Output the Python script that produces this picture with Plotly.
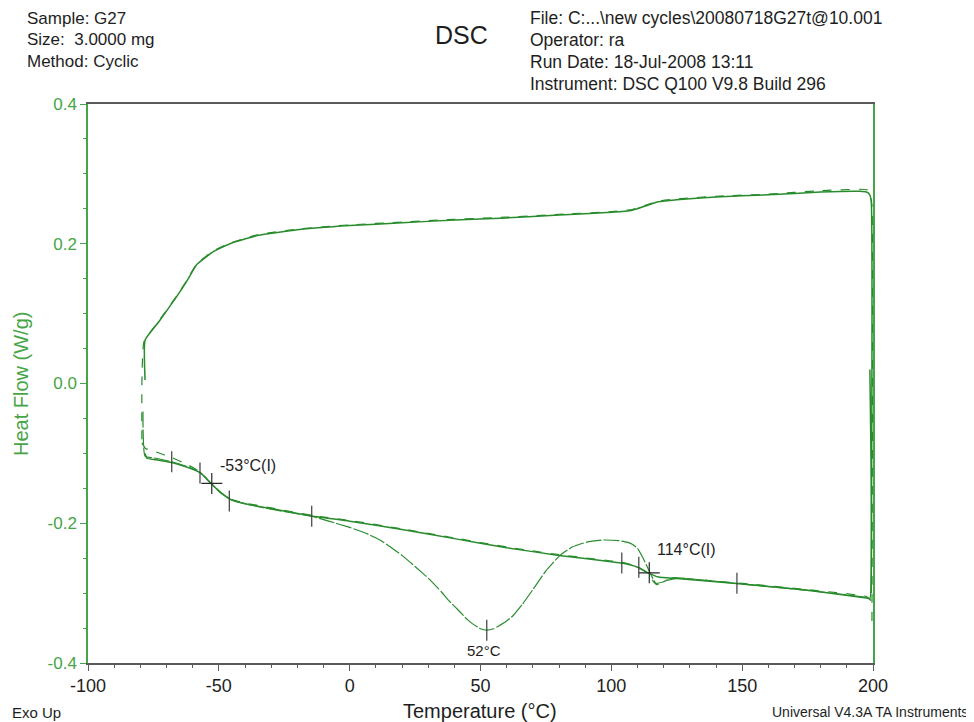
import plotly.graph_objects as go

# ---------------- data ----------------
# Cycle A (solid): cooling 200 -> -78 (top), then heating -78 -> 200 (bottom, no transition)
coolA_T = [199.3, 199.3, 198.6, 197.5, 195, 180, 160, 140, 125, 118, 113, 108, 100, 80, 60, 40, 20, 0,
           -20, -35, -45, -52, -58.5, -62, -66, -73, -78.2, -78.2]
coolA_HF = [-0.300, 0.262, 0.271, 0.274, 0.275, 0.274, 0.270, 0.267, 0.263, 0.260, 0.254, 0.248, 0.245,
            0.241, 0.237, 0.234, 0.230, 0.226, 0.220, 0.212, 0.201, 0.189, 0.170, 0.148, 0.125, 0.088,
            0.062, 0.005]
heatA_T = [-78.2, -77.5, -74, -68, -62, -57, -53, -49, -45, -40, -30, -14, 0, 20, 40, 60, 80, 100, 104,
           110, 114, 118, 125, 150, 175, 197.5, 198.8, 198.8]
heatA_HF = [-0.100, -0.107, -0.109, -0.113, -0.120, -0.128, -0.143, -0.157, -0.167, -0.172, -0.179,
            -0.190, -0.197, -0.209, -0.222, -0.235, -0.246, -0.255, -0.257, -0.263, -0.271, -0.277,
            -0.279, -0.287, -0.296, -0.307, -0.308, 0.020]

# Cycle B (dashed): almost the same path
coolB_T = [199.6, 199.6, 199.0, 198.0, 195, 180, 160, 140, 125, 118, 113, 108, 100, 80, 60, 40, 20, 0,
           -20, -35, -45, -52, -58.5, -62, -66, -73, -78.6, -79.4, -79.4]
coolB_HF = [-0.340, 0.255, 0.268, 0.277, 0.278, 0.276, 0.271, 0.268, 0.264, 0.261, 0.255, 0.249, 0.246,
            0.242, 0.238, 0.235, 0.231, 0.227, 0.221, 0.213, 0.202, 0.190, 0.171, 0.149, 0.126, 0.089,
            0.060, 0.000, -0.085]
heatB_T = [-79.4, -78, -74, -68, -62, -57, -53, -49, -45, -40, -30, -14, 0, 20, 40, 60, 80, 100, 104,
           110, 114, 116, 117.5, 120, 125, 150, 175, 197.5, 199.6]
heatB_HF = [-0.085, -0.093, -0.098, -0.106, -0.116, -0.127, -0.143, -0.157, -0.166, -0.171, -0.178,
            -0.189, -0.196, -0.208, -0.221, -0.234, -0.245, -0.254, -0.256, -0.262, -0.272, -0.283,
            -0.288, -0.283, -0.279, -0.286, -0.295, -0.305, -0.312]

# First heating (long dash): cold-crystallisation dip at 52 C
heatC_T = [-79.0, -78.2, -74, -68, -62, -57, -53, -49, -45, -40, -30, -14.5, -8, 0, 6, 11.6, 16, 20, 25,
           30.7, 35, 38, 42.2, 45, 47, 50, 52.4, 55, 57, 60, 62.5, 66, 70.2, 75, 80.4, 85, 90.6, 96.8,
           103, 106, 108, 110, 112, 114.7, 117, 119.7, 123.5, 150, 175, 197.5]
heatC_HF = [-0.040, -0.104, -0.107, -0.112, -0.119, -0.128, -0.143, -0.157, -0.167, -0.172, -0.180,
            -0.190, -0.197, -0.206, -0.214, -0.224, -0.235, -0.246, -0.262, -0.281, -0.298, -0.311,
            -0.327, -0.338, -0.344, -0.351, -0.353, -0.351, -0.347, -0.340, -0.332, -0.316, -0.294,
            -0.268, -0.246, -0.234, -0.227, -0.224, -0.225, -0.227, -0.230, -0.236, -0.249, -0.270,
            -0.286, -0.284, -0.278, -0.287, -0.296, -0.306]

# analysis marks
tick_T = [-68, -57.2, -46, -14.5, 52.4, 104, 110.5, 148]
tick_HF = [-0.112, -0.128, -0.168, -0.190, -0.353, -0.257, -0.263, -0.286]
cross_T = [-52.7, 114.5]
cross_HF = [-0.143, -0.271]

x_ticks = [-100, -50, 0, 50, 100, 150, 200]
y_ticks = [-0.4, -0.2, 0.0, 0.2, 0.4]

# ---------------- figure ----------------
GREEN = "rgb(40,140,45)"
GREEN_AX = "rgb(70,165,70)"
GRAY = "rgb(90,90,90)"
FONT = "Liberation Sans, Arial, sans-serif"

fig = go.Figure()
for T, H, dash, w in [
    (coolA_T, coolA_HF, "solid", 1.5),
    (heatA_T, heatA_HF, "solid", 1.5),
    (coolB_T, coolB_HF, "dash", 1.2),
    (heatB_T, heatB_HF, "dash", 1.2),
    (heatC_T, heatC_HF, "16px,2px", 1.2),
]:
    fig.add_trace(go.Scatter(x=T, y=H, mode="lines", line_shape="spline",
                             line=dict(color=GREEN, width=w, dash=dash, smoothing=0.4),
                             hoverinfo="skip", showlegend=False))

fig.add_trace(go.Scatter(x=tick_T, y=tick_HF, mode="markers",
                         marker=dict(symbol="line-ns", size=15,
                                     line=dict(color="rgb(60,60,60)", width=1.2)),
                         showlegend=False, hoverinfo="skip"))
fig.add_trace(go.Scatter(x=cross_T, y=cross_HF, mode="markers",
                         marker=dict(symbol="cross-thin", size=15,
                                     line=dict(color="rgb(40,40,40)", width=1.2)),
                         showlegend=False, hoverinfo="skip"))

def ann(text, x, y, size=15, xanchor="left", color="rgb(30,30,30)", xref="paper", yref="paper", **kw):
    fig.add_annotation(text=text, x=x, y=y, xref=xref, yref=yref, showarrow=False,
                       xanchor=xanchor, yanchor="middle",
                       font=dict(family=FONT, size=size, color=color), **kw)

# page pixel -> paper fraction (plot area spans x 88..873, y 104..663 on the page)
def px_x(px):
    return (px - 88) / 785.0

def px_y(py):
    return (663 - py) / 559.0

# header
ann("Sample: G27", px_x(25), px_y(18), size=17)
ann("Size:\u00a0 3.0000 mg", px_x(25), px_y(40), size=17)
ann("Method: Cyclic", px_x(25), px_y(62), size=17)
ann("DSC", px_x(461), px_y(35), size=25, xanchor="center")
ann("File: C:...\\new cycles\\20080718G27t@10.001", px_x(528), px_y(18), size=17.5)
ann("Operator: ra", px_x(528), px_y(40), size=17.5)
ann("Run Date: 18-Jul-2008 13:11", px_x(528), px_y(62), size=17.5)
ann("Instrument: DSC Q100 V9.8 Build 296", px_x(528), px_y(84), size=17.5)
# footer
ann("Exo Up", px_x(10), px_y(712), size=15)
ann("Temperature (°C)", px_x(480), px_y(711), size=20, xanchor="center")
ann("Universal V4.3A TA Instruments", px_x(970), px_y(712), size=14, xanchor="right")
# y title
ann("Heat Flow (W/g)", px_x(21), px_y(384), size=20, xanchor="center", color=GREEN_AX, textangle=-90)
# data labels
ann("-53°C(I)", -50.5, -0.117, size=16, xref="x", yref="y")
ann("114°C(I)", 116.5, -0.237, size=16, xref="x", yref="y")
ann("52°C", 51.5, -0.382, size=15, xanchor="center", xref="x", yref="y")

# the page body adds an 8px margin, so the figure is 8px smaller and the top/left margins shrink
fig.update_layout(
    width=966, height=714,
    margin=dict(l=80, r=101, t=96, b=59, pad=0),
    paper_bgcolor="white", plot_bgcolor="white",
    font=dict(family=FONT, size=15, color="rgb(30,30,30)"),
    xaxis=dict(range=[-100, 200], tickvals=x_ticks, ticktext=[str(v) for v in x_ticks],
               showgrid=False, zeroline=False, showline=True, linecolor=GRAY, linewidth=1.5,
               mirror=True, ticks="outside", ticklen=6, tickcolor=GRAY,
               minor=dict(dtick=10, ticks="outside", ticklen=3, tickcolor=GRAY),
               tickfont=dict(size=18, color="rgb(30,30,30)")),
    yaxis=dict(range=[-0.4, 0.4], tickvals=y_ticks, ticktext=["%.1f" % v for v in y_ticks],
               showgrid=False, zeroline=False, showline=True, linecolor=GREEN_AX, linewidth=1.5,
               mirror=True, ticks="outside", ticklen=6, tickcolor=GREEN_AX,
               minor=dict(dtick=0.05, ticks="outside", ticklen=3, tickcolor=GREEN_AX),
               tickfont=dict(size=17, color=GREEN_AX)),
)

fig.write_html("out.html")
